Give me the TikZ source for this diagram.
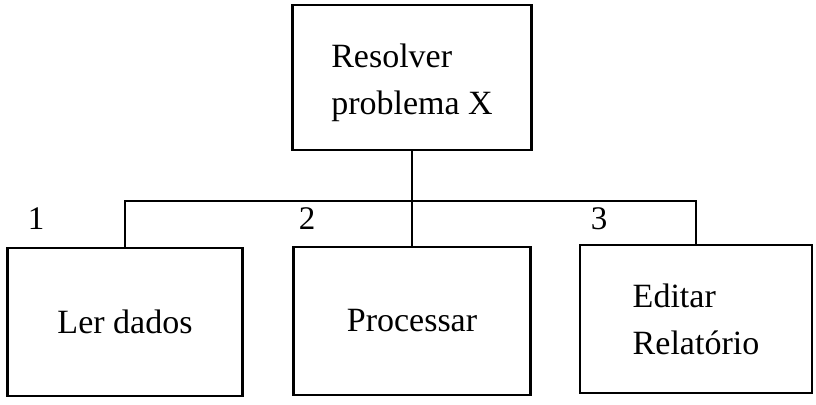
\documentclass[tikz,border=0pt]{standalone}
\usepackage{fontspec}
\setmainfont{Liberation Serif}
\begin{document}
\begin{tikzpicture}[x=1pt,y=-1pt,
  box/.style={draw,line width=2.2pt,inner sep=0pt,align=left,
    font=\fontsize{34}{47}\selectfont},
  num/.style={inner sep=0pt,anchor=base,font=\fontsize{33}{37}\selectfont},
  wire/.style={line width=2.2pt}]
\useasboundingbox (0,0) rectangle (816,404);
\node[box,minimum width=239pt,minimum height=145pt] (top) at (412,77.5) {\\[-12pt]Resolver\\problema X};
\node[box,minimum width=235pt,minimum height=148pt] (left) at (125,322) {Ler dados};
\node[box,minimum width=237pt,minimum height=148pt] (mid) at (412,321) {Processar};
\node[box,minimum width=232pt,minimum height=148pt] (right) at (696,319) {Editar\\Relatório};
\coordinate (bus) at (412,201);
\draw[wire] (top.south) -- (mid.north);
\draw[wire] (left.north) |- (bus) -| (right.north);
\node[num] (n1) at (36,229) {1};
\node[num] (n2) at (307,229) {2};
\node[num] (n3) at (599,229) {3};
\end{tikzpicture}
\end{document}
